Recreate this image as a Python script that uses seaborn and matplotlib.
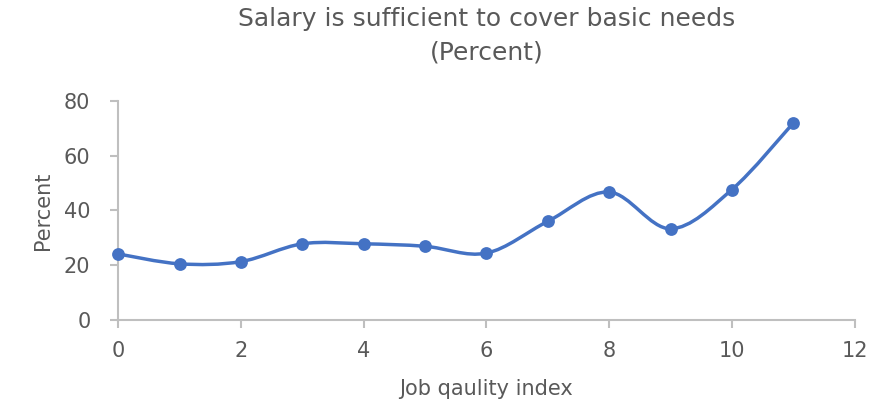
import numpy as np
import pandas as pd
import matplotlib
matplotlib.use('Agg')
import matplotlib.pyplot as plt
from matplotlib.path import Path
from matplotlib.patches import PathPatch
import seaborn as sns

# data
job_quality = [0, 1, 2, 3, 4, 5, 6, 7, 8, 9, 10, 11]
percent = [24.1, 20.5, 21.3, 27.8, 27.8, 26.9, 24.4, 36.0, 46.7, 33.3, 47.6, 71.9]

x_ticks = [0, 2, 4, 6, 8, 10, 12]
y_ticks = [0, 20, 40, 60, 80]

BLUE = '#4472C4'
GREY_TEXT = '#595959'
GREY_AXIS = '#BFBFBF'


def smooth_path(xs, ys):
    # Excel-style smoothed line: cubic bezier segments, catmull-rom control points
    pts = np.column_stack([xs, ys]).astype(float)
    verts = [pts[0]]
    codes = [Path.MOVETO]
    n = len(pts)
    for i in range(n - 1):
        p0 = pts[i - 1] if i > 0 else pts[i]
        p1 = pts[i]
        p2 = pts[i + 1]
        p3 = pts[i + 2] if i + 2 < n else pts[i + 1]
        c1 = p1 + (p2 - p0) / 6.0
        c2 = p2 - (p3 - p1) / 6.0
        verts += [c1, c2, p2]
        codes += [Path.CURVE4] * 3
    return Path(verts, codes)


df = pd.DataFrame({'Job qaulity index': job_quality, 'Percent': percent})

sns.set_style('white')
plt.rcParams['font.family'] = ['DejaVu Sans']

fig = plt.figure(figsize=(8.82, 4.05), dpi=100)
ax = fig.add_axes([0.134, 0.21, 0.835, 0.541])

patch = PathPatch(smooth_path(df['Job qaulity index'], df['Percent']),
                  facecolor='none', edgecolor=BLUE, linewidth=2.5, zorder=2)
ax.add_patch(patch)
sns.scatterplot(data=df, x='Job qaulity index', y='Percent', color=BLUE,
                s=85, edgecolor=BLUE, linewidth=0, zorder=3, ax=ax, clip_on=False)

ax.set_xlim(0, 12)
ax.set_ylim(0, 80)
ax.set_xticks(x_ticks)
ax.set_yticks(y_ticks)

for side in ['top', 'right']:
    ax.spines[side].set_visible(False)
for side in ['left', 'bottom']:
    ax.spines[side].set_color(GREY_AXIS)
    ax.spines[side].set_linewidth(1.5)

ax.tick_params(axis='both', which='both', direction='out', length=6, width=1.5,
               color=GREY_AXIS, labelcolor=GREY_TEXT, labelsize=15,
               bottom=True, left=True)
ax.tick_params(axis='x', pad=9)
ax.tick_params(axis='y', pad=14)

ax.set_xlabel('Job qaulity index', fontsize=15, color=GREY_TEXT, labelpad=13)
ax.set_ylabel('Percent', fontsize=15, color=GREY_TEXT, labelpad=8,
              family=['Liberation Sans Narrow', 'DejaVu Sans'])
ax.set_title('Salary is sufficient to cover basic needs\n(Percent)',
             fontsize=18, color=GREY_TEXT, pad=30, linespacing=1.5)

fig.savefig('out.png', dpi=100)
